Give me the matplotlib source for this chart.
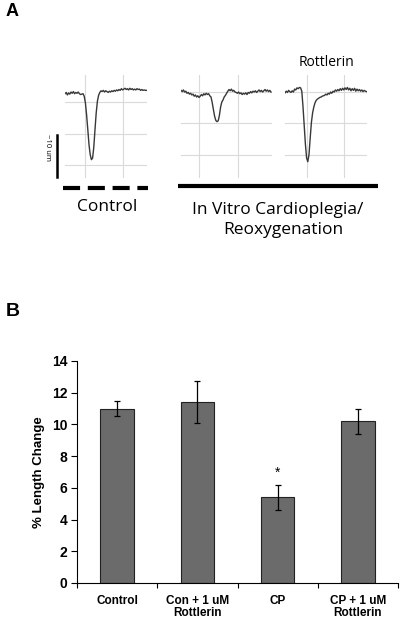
import numpy as np
import matplotlib.pyplot as plt
from matplotlib.lines import Line2D

# ---- panel A: single-cell shortening traces (length in um vs time in ms)
dt = 6
control_um = [-0.4, -0.1, -0.7, -0.2, -0.5, 0.0, -0.3, 0.1, -0.4, -0.1, -0.3, 0.0,
              -0.4, -0.6, -0.5, -0.4, -1.0, -2.6, -5.5, -9.0, -12.6, -15.0, -16.2,
              -15.8, -13.2, -9.0, -5.0, -2.2, -0.8, -0.1, 0.3, 0.1, 0.4, 0.0, 0.3,
              0.1, -0.1, 0.2, 0.0, 0.3, 0.1, 0.4, 0.2, 0.5, 0.3, 0.6, 0.4, 0.8,
              0.5, 0.7, 0.9, 0.6, 0.8, 0.5, 0.9, 0.6, 0.8, 0.5, 0.7, 0.5, 0.8,
              0.6, 0.7, 0.4, 0.6, 0.4, 0.5, 0.4, 0.4]
cp_um = [0.4, 0.1, 0.5, 0.0, 0.2, -0.3, -0.1, -0.5, -0.3, -0.7, -0.5, -1.0, -0.7,
         -1.2, -0.9, -1.3, -1.0, -0.6, -0.9, -0.4, -0.7, -0.3, -0.6, -0.4, -0.9,
         -1.2, -2.5, -4.2, -5.8, -6.8, -7.1, -6.9, -5.6, -3.6, -2.4, -1.9, -1.2,
         -0.8, -0.3, 0.2, 0.6, 0.3, 0.7, 0.2, 0.4, 0.0, -0.1, -0.3, 0.0, -0.4,
         -0.2, -0.6, -0.3, -0.5, -0.2, -0.6, -0.1, -0.3, 0.1, -0.2, 0.2, 0.0, 0.3,
         -0.1, 0.2, 0.5, 0.1, 0.4, 0.0, 0.3, 0.6, 0.2, 0.5, 0.1, 0.4, 0.0]
rott_um = [-0.2, 0.2, -0.1, 0.4, 0.1, -0.1, 0.3, 0.0, 0.7, 0.5, 1.0, 0.8, 1.1, 1.0,
           0.2, -3.5, -8.0, -12.5, -15.8, -16.7, -15.0, -11.0, -7.3, -5.0, -3.6,
           -2.6, -2.0, -1.7, -1.5, -1.3, -1.2, -1.0, -0.9, -0.8, -0.5, -0.7, -0.3,
           -0.5, 0.0, -0.3, 0.2, 0.0, 0.5, 0.2, 0.6, 0.3, 0.8, 0.4, 0.9, 0.5, 1.0,
           0.6, 1.1, 0.5, 0.9, 0.3, 0.8, 0.4, 0.9, 0.2, 0.7, 0.3, 0.6, 0.2, 0.5,
           0.1, 0.4, 0.2, 0.1]

# ---- panel B: % length change, mean +/- SEM
groups = ["Control", "Con + 1 uM\nRottlerin", "CP", "CP + 1 uM\nRottlerin"]
means = [11.0, 11.4, 5.4, 10.2]
sems = [0.47, 1.33, 0.8, 0.8]
signif = [False, False, True, False]

W, H = 400, 620
fig = plt.figure(figsize=(4, 6.2), dpi=100)


def fx(x):
    return x / W


def fy(y):
    return 1 - y / H


sans_a = ["Open Sans", "DejaVu Sans"]
arial = ["Liberation Sans", "DejaVu Sans"]

ylo, yhi = -20.6, 4.08
traces = [
    (control_um, 65, 82, [100, 290], [-2.4, -10.0, -17.5]),
    (cp_um, 181, 91, [90, 283], [0.0, -7.5, -15.0]),
    (rott_um, 285, 82, [108, 296], [0.0, -7.5, -15.0]),
]
axes_a = []
for vals, left, width, vgrid, hgrid in traces:
    ax = fig.add_axes([fx(left), fy(178), fx(width), 103 / H])
    t = np.arange(len(vals)) * dt
    ax.plot(t, vals, color="#383838", lw=1.0)
    ax.set_xlim(0, width * 5)
    ax.set_ylim(ylo, yhi)
    ax.set_xticks(vgrid)
    ax.set_yticks(hgrid)
    ax.grid(True, color="#dadada", lw=0.8)
    ax.set_axisbelow(True)
    ax.tick_params(length=0, labelbottom=False, labelleft=False)
    for s in ax.spines.values():
        s.set_visible(False)
    axes_a.append(ax)

# 10 um scale bar on the control trace
ax0 = axes_a[0]
ax0.plot([-38, -38], [-10.3, -20.3], color="black", lw=1.8, clip_on=False)
fig.text(fx(48), fy(147), "~10 um", rotation=270, ha="center", va="center",
         fontsize=5.5, family=sans_a)

# condition bars under the traces
fig.add_artist(Line2D([fx(63), fx(148)], [fy(188), fy(188)], color="black", lw=3,
                      dashes=(4.1, 1.85), transform=fig.transFigure))
fig.add_artist(Line2D([fx(178), fx(378)], [fy(186), fy(186)], color="black", lw=3,
                      solid_capstyle="butt", transform=fig.transFigure))

fig.text(fx(6), fy(12), "A", fontsize=13, fontweight="bold", family=arial,
         ha="left", va="center")
fig.text(fx(326), fy(62), "Rottlerin", fontsize=10, family=sans_a,
         ha="center", va="center")
fig.text(fx(107), fy(207), "Control", fontsize=12.5, family=sans_a,
         ha="center", va="center")
fig.text(fx(278), fy(210), "In Vitro Cardioplegia/", fontsize=12.5,
         family=sans_a, ha="center", va="center")
fig.text(fx(283), fy(230), "Reoxygenation", fontsize=12.5, family=sans_a,
         ha="center", va="center")

# ---- panel B
fig.text(fx(6), fy(312), "B", fontsize=14, fontweight="bold", family=arial,
         ha="left", va="center")
axb = fig.add_axes([fx(77), fy(583), fx(321), (583 - 361) / H])
x = np.arange(len(groups))
axb.bar(x, means, width=0.42, color="#6b6b6b", edgecolor="#222222", lw=0.8)
axb.errorbar(x, means, yerr=sems, fmt="none", ecolor="black", elinewidth=0.9,
             capsize=2.5, capthick=0.9)
for xi, m, s, sig in zip(x, means, sems, signif):
    if sig:
        axb.text(xi, m + s + 0.75, "*", ha="center", va="center", fontsize=10,
                 family=arial)
axb.set_xlim(-0.5, len(groups) - 0.5)
axb.set_ylim(0, 14)
axb.set_yticks(range(0, 15, 2))
axb.set_xticks(x)
axb.set_xticklabels(groups, fontsize=8.5, fontweight="bold", family=arial,
                    linespacing=1.0)
axb.set_xticks(np.arange(-0.5, len(groups)), minor=True)
axb.tick_params(axis="x", which="major", length=0, pad=9)
axb.tick_params(axis="x", which="minor", length=3.5, width=0.8)
axb.tick_params(axis="y", length=4, width=0.8, pad=3)
for lab in axb.get_yticklabels():
    lab.set_fontsize(10)
    lab.set_fontweight("bold")
    lab.set_family(arial)
axb.set_ylabel("% Length Change", fontsize=9.5, fontweight="bold", family=arial,
               labelpad=5)
axb.spines["top"].set_visible(False)
axb.spines["right"].set_visible(False)
for s in ("left", "bottom"):
    axb.spines[s].set_linewidth(0.8)

fig.savefig("out.png", dpi=100)
